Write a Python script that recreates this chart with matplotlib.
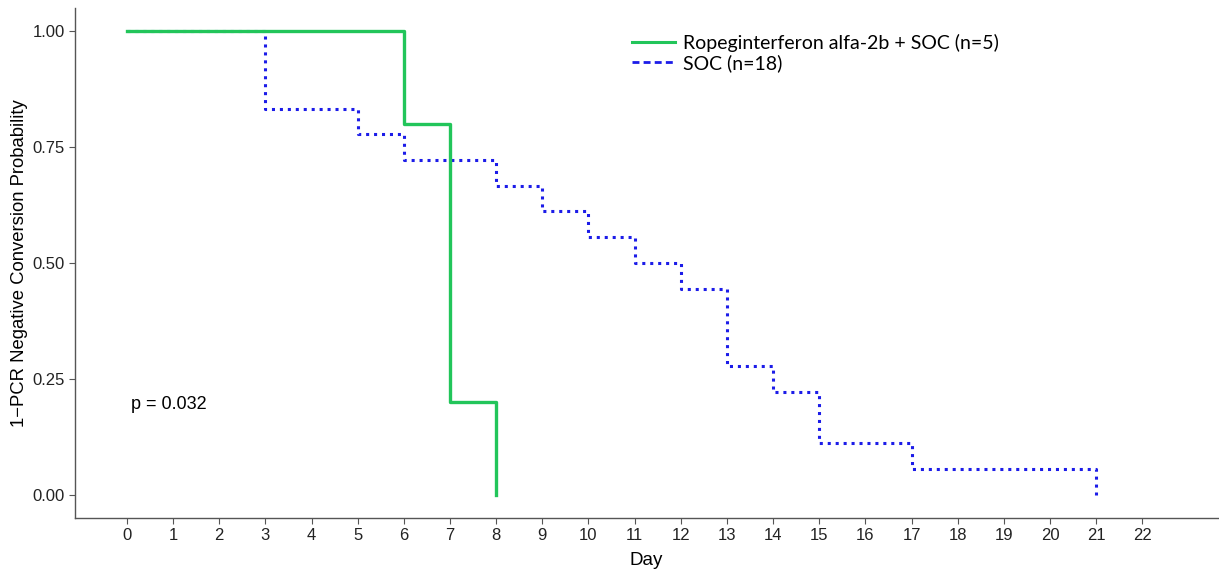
import matplotlib.pyplot as plt
from matplotlib.lines import Line2D

# Kaplan-Meier style step data
rope_days = [0, 6, 7, 8]
rope_prob = [1.0, 0.8, 0.2, 0.0]

soc_days = [0, 3, 5, 6, 8, 9, 10, 11, 12, 13, 14, 15, 17, 21]
soc_prob = [1.0, 0.833, 0.778, 0.722, 0.667, 0.611, 0.556, 0.5, 0.444, 0.278, 0.222, 0.111, 0.056, 0.0]

x_ticks = list(range(0, 23))
y_ticks = [0.0, 0.25, 0.5, 0.75, 1.0]

rope_label = "Ropeginterferon alfa-2b + SOC (n=5)"
soc_label = "SOC (n=18)"
p_text = "p = 0.032"

green = "#22c55a"
blue = "#1c1ce8"

plt.rcParams['font.family'] = ['Liberation Sans', 'DejaVu Sans']

fig = plt.figure(figsize=(12.19, 5.71), dpi=100)
ax = fig.add_axes([0.0615, 0.093, 0.938, 0.893])

ax.step(soc_days, soc_prob, where='post', color=blue, lw=2.2, linestyle=(0, (1, 1.6)))
ax.step(rope_days, rope_prob, where='post', color=green, lw=2.4)

ax.set_xlim(-1.127, 23.65)
ax.set_ylim(-0.05, 1.05)
ax.set_xticks(x_ticks)
ax.set_yticks(y_ticks)
ax.set_yticklabels([f"{v:.2f}" for v in y_ticks])
ax.tick_params(labelsize=12, colors='#222222', length=4, color='#555555')

for s in ['top', 'right']:
    ax.spines[s].set_visible(False)
for s in ['left', 'bottom']:
    ax.spines[s].set_color('#555555')
    ax.spines[s].set_linewidth(1.0)

ax.set_xlabel("Day", fontsize=13.5, labelpad=6)
ax.set_ylabel("1\u2212PCR Negative Conversion Probability", fontsize=13.3, labelpad=3)

ax.text(0.09, 0.194, p_text, fontsize=13, va='center', ha='left')

handles = [
    Line2D([], [], color=green, lw=2.2),
    Line2D([], [], color=blue, lw=2.0, linestyle=(0, (2.5, 1.5))),
]
leg = ax.legend(handles, [rope_label, soc_label], loc='upper left',
                bbox_to_anchor=(0.4875, 0.949), frameon=False,
                prop={'family': 'Lato', 'size': 14}, handlelength=2.2,
                handletextpad=0.4, labelspacing=0.1, borderaxespad=0,
                borderpad=0)

fig.savefig("out.png", dpi=100)
